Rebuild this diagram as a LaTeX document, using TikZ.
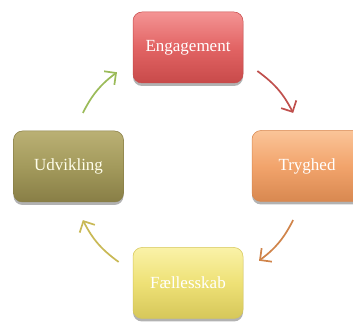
\documentclass[tikz,border=0pt]{standalone}
\usepackage{fontspec}
\setmainfont{Liberation Serif}
\usetikzlibrary{arrows.meta,shadows}
\definecolor{redT}{HTML}{F49494}
\definecolor{redM}{HTML}{E26464}
\definecolor{redB}{HTML}{C84A4A}
\definecolor{oraT}{HTML}{FAC498}
\definecolor{oraM}{HTML}{F2A46C}
\definecolor{oraB}{HTML}{D88850}
\definecolor{yelT}{HTML}{FAF2A8}
\definecolor{yelM}{HTML}{EEE176}
\definecolor{yelB}{HTML}{D6C75A}
\definecolor{oliT}{HTML}{BAB074}
\definecolor{oliM}{HTML}{A39A5C}
\definecolor{oliB}{HTML}{887E46}
\definecolor{arRed}{HTML}{C0504D}
\definecolor{arOra}{HTML}{D0844A}
\definecolor{arYel}{HTML}{C9B955}
\definecolor{arGre}{HTML}{9BBB59}
\tikzset{
  box/.style={rounded corners=9pt, minimum width=110pt, minimum height=71pt,
    text=white, font=\fontsize{17}{19}\selectfont, line width=0.5pt,
    drop shadow={shadow xshift=0pt, shadow yshift=-3pt, opacity=0.4, fill=black!75}},
  redbox/.style={box, draw=redB, top color=redT, bottom color=redB, middle color=redM},
  orabox/.style={box, draw=oraB, top color=oraT, bottom color=oraB, middle color=oraM},
  yelbox/.style={box, draw=yelB, top color=yelT, bottom color=yelB, middle color=yelM},
  olibox/.style={box, draw=oliB, top color=oliT, bottom color=oliB, middle color=oliM, text=white!92!yellow},
  cyc/.style={line width=1.7pt, -{Straight Barb[length=8.5pt,width=17pt,line width=1.7pt]}}
}
\begin{document}
\begin{tikzpicture}[x=1pt,y=1pt]
\useasboundingbox (0,0) rectangle (353,323);
\fill[white] (0,0) rectangle (353,323);
\node[redbox] (eng) at (188,275.5) {Engagement};
\node[orabox] (try) at (307,157) {Tryghed};
\node[yelbox] (fae) at (188,40) {Fællesskab};
\node[olibox] (udv) at (68.5,156.5) {Udvikling};
\coordinate (c) at (188,156.5);
\coordinate (r1) at ([shift={(54:118)}]c);
\coordinate (r2) at ([shift={(27:118)}]c);
\coordinate (o1) at ([shift={(-27:118)}]c);
\coordinate (o2) at ([shift={(-53:118)}]c);
\coordinate (y1) at ([shift={(-126:118)}]c);
\coordinate (y2) at ([shift={(-153:118)}]c);
\coordinate (g1) at ([shift={(153:118)}]c);
\coordinate (g2) at ([shift={(127:118)}]c);
\draw[cyc, arRed] (r1) to[bend left=13.5] (r2);
\draw[cyc, arOra] (o1) to[bend left=13] (o2);
\draw[cyc, arYel] (y1) to[bend left=13.5] (y2);
\draw[cyc, arGre] (g1) to[bend left=13] (g2);
\end{tikzpicture}
\end{document}
